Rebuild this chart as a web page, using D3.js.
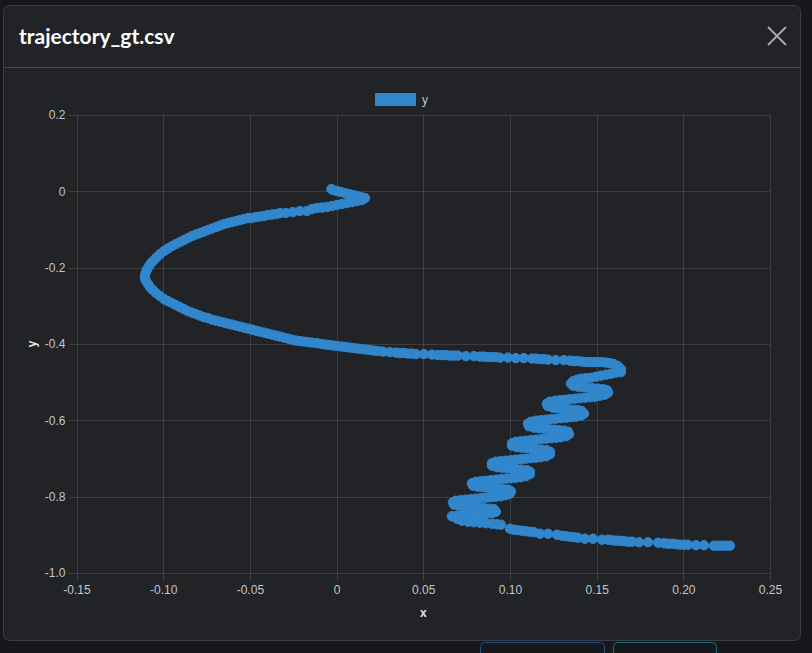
<!DOCTYPE html>
<html>
<head>
<meta charset="utf-8">
<script src="https://cdn.jsdelivr.net/npm/d3@7/dist/d3.min.js"></script>
<style>
  html, body { margin: 0; padding: 0; background: #17181b; }
  svg { display: block; }
</style>
</head>
<body>
<svg id="chart" width="812" height="653"></svg>
<script>
// ---- data ----
const title = "trajectory_gt.csv";
const seriesName = "y";
const xAxisTitle = "x";
const yAxisTitle = "y";
const xTicks = [-0.15, -0.10, -0.05, 0, 0.05, 0.10, 0.15, 0.20, 0.25];
const xTickLabels = ["-0.15", "-0.10", "-0.05", "0", "0.05", "0.10", "0.15", "0.20", "0.25"];
const yTicks = [0.2, 0, -0.2, -0.4, -0.6, -0.8, -1.0];
const yTickLabels = ["0.2", "0", "-0.2", "-0.4", "-0.6", "-0.8", "-1.0"];

const xValues = [
  -0.0030, -0.0021, 0.0002, 0.0025, 0.0048, 0.0072, 0.0095, 0.0118, 0.0141, 0.0164, 0.0146,
  0.0118, 0.0089, 0.0060, 0.0031, 0.0002, -0.0027, -0.0055, -0.0084, -0.0113, -0.0142,
  -0.0171, -0.0211, -0.0252, -0.0292, -0.0326, -0.0349, -0.0372, -0.0396, -0.0419, -0.0442,
  -0.0465, -0.0488, -0.0511, -0.0534, -0.0557, -0.0580, -0.0603, -0.0626, -0.0649, -0.0672,
  -0.0695, -0.0719, -0.0742, -0.0765, -0.0788, -0.0811, -0.0834, -0.0857, -0.0880, -0.0903,
  -0.0926, -0.0949, -0.0972, -0.0995, -0.1018, -0.1036, -0.1053, -0.1070, -0.1082, -0.1093,
  -0.1099, -0.1105, -0.1105, -0.1099, -0.1087, -0.1076, -0.1059, -0.1041, -0.1018, -0.0995,
  -0.0972, -0.0949, -0.0926, -0.0903, -0.0880, -0.0857, -0.0834, -0.0811, -0.0788, -0.0765,
  -0.0742, -0.0719, -0.0695, -0.0672, -0.0649, -0.0626, -0.0603, -0.0580, -0.0557, -0.0534,
  -0.0511, -0.0488, -0.0465, -0.0442, -0.0419, -0.0396, -0.0372, -0.0349, -0.0326, -0.0303,
  -0.0280, -0.0257, -0.0234, -0.0211, -0.0188, -0.0165, -0.0142, -0.0113, -0.0084, -0.0061,
  -0.0038, -0.0015, 0.0008, 0.0031, 0.0054, 0.0077, 0.0100, 0.0123, 0.0146, 0.0170,
  0.0193, 0.0216, 0.0239, 0.0268, 0.0308, 0.0343, 0.0366, 0.0389, 0.0412, 0.0435,
  0.0458, 0.0504, 0.0550, 0.0585, 0.0608, 0.0631, 0.0654, 0.0677, 0.0700, 0.0746,
  0.0792, 0.0827, 0.0850, 0.0873, 0.0896, 0.0919, 0.0942, 0.0988, 0.1034, 0.1080,
  0.1127, 0.1150, 0.1173, 0.1196, 0.1219, 0.1265, 0.1311, 0.1346, 0.1369, 0.1392,
  0.1415, 0.1438, 0.1462, 0.1485, 0.1508, 0.1531, 0.1554, 0.1577, 0.1600, 0.1623,
  0.1640, 0.1640,
  // wiggles
  0.1612, 0.1583, 0.1554, 0.1525, 0.1496, 0.1467, 0.1438, 0.1410, 0.1387, 0.1364,
  0.1352, 0.1364, 0.1392, 0.1421, 0.1450, 0.1479, 0.1508, 0.1537, 0.1560, 0.1566,
  0.1548, 0.1519, 0.1491, 0.1462, 0.1433, 0.1404, 0.1375, 0.1346, 0.1317, 0.1288,
  0.1259, 0.1231, 0.1213, 0.1219, 0.1248, 0.1277, 0.1306, 0.1335, 0.1364, 0.1392,
  0.1415, 0.1427, 0.1410, 0.1381, 0.1352, 0.1323, 0.1294, 0.1265, 0.1236, 0.1208,
  0.1179, 0.1150, 0.1121, 0.1104, 0.1110, 0.1139, 0.1167, 0.1196, 0.1225, 0.1254,
  0.1283, 0.1312, 0.1335, 0.1341, 0.1323, 0.1294, 0.1265, 0.1236, 0.1208, 0.1179,
  0.1150, 0.1121, 0.1092, 0.1063, 0.1034, 0.1012, 0.1012, 0.1040, 0.1069, 0.1098,
  0.1127, 0.1156, 0.1185, 0.1213, 0.1231, 0.1231, 0.1208, 0.1179, 0.1150, 0.1121,
  0.1092, 0.1063, 0.1034, 0.1006, 0.0977, 0.0948, 0.0919, 0.0896, 0.0896, 0.0925,
  0.0954, 0.0983, 0.1012, 0.1040, 0.1069, 0.1098, 0.1115, 0.1115, 0.1092, 0.1063,
  0.1034, 0.1006, 0.0977, 0.0948, 0.0919, 0.0890, 0.0861, 0.0833, 0.0804, 0.0781,
  0.0787, 0.0815, 0.0844, 0.0873, 0.0902, 0.0931, 0.0960, 0.0988, 0.1006, 0.1000,
  0.0977, 0.0948, 0.0919, 0.0890, 0.0861, 0.0833, 0.0804, 0.0775, 0.0746, 0.0717,
  0.0688, 0.0671, 0.0677, 0.0706, 0.0735, 0.0763, 0.0792, 0.0821, 0.0850, 0.0879,
  0.0908, 0.0919, 0.0896, 0.0867, 0.0838, 0.0810, 0.0781, 0.0752, 0.0723, 0.0694,
  0.0665, 0.0694, 0.0723, 0.0758, 0.0792, 0.0827, 0.0861, 0.0896, 0.0925, 0.0948,
  // final run
  0.1000, 0.1023, 0.1046, 0.1069, 0.1092, 0.1115, 0.1139, 0.1173, 0.1219, 0.1271,
  0.1300, 0.1323, 0.1346, 0.1369, 0.1392, 0.1433, 0.1479, 0.1531, 0.1566, 0.1589,
  0.1612, 0.1635, 0.1658, 0.1681, 0.1704, 0.1745, 0.1796, 0.1854, 0.1888, 0.1911,
  0.1935, 0.1958, 0.1981, 0.2004, 0.2027, 0.2073, 0.2119, 0.2177, 0.2200, 0.2223,
  0.2246, 0.2269
];

const yValues = [
  0.0060, 0.0034, 0.0008, -0.0018, -0.0045, -0.0071, -0.0097, -0.0123, -0.0149, -0.0176, -0.0228,
  -0.0254, -0.0281, -0.0307, -0.0333, -0.0359, -0.0385, -0.0412, -0.0425, -0.0438, -0.0464,
  -0.0516, -0.0516, -0.0543, -0.0569, -0.0569, -0.0595, -0.0608, -0.0621, -0.0647, -0.0661,
  -0.0674, -0.0700, -0.0700, -0.0726, -0.0753, -0.0779, -0.0805, -0.0831, -0.0857, -0.0897,
  -0.0936, -0.0975, -0.1014, -0.1054, -0.1093, -0.1132, -0.1172, -0.1224, -0.1277, -0.1329,
  -0.1381, -0.1434, -0.1499, -0.1565, -0.1644, -0.1722, -0.1801, -0.1880, -0.1959, -0.2038,
  -0.2116, -0.2195, -0.2273, -0.2352, -0.2431, -0.2509, -0.2588, -0.2667, -0.2745, -0.2824,
  -0.2877, -0.2929, -0.2981, -0.3034, -0.3086, -0.3139, -0.3178, -0.3217, -0.3257, -0.3296,
  -0.3322, -0.3362, -0.3388, -0.3414, -0.3440, -0.3466, -0.3492, -0.3519, -0.3545, -0.3571,
  -0.3597, -0.3623, -0.3650, -0.3676, -0.3702, -0.3728, -0.3754, -0.3780, -0.3806, -0.3833,
  -0.3859, -0.3885, -0.3911, -0.3924, -0.3937, -0.3950, -0.3963, -0.3976, -0.4003, -0.4016,
  -0.4029, -0.4042, -0.4055, -0.4068, -0.4081, -0.4094, -0.4107, -0.4121, -0.4134, -0.4147,
  -0.4160, -0.4173, -0.4186, -0.4199, -0.4212, -0.4225, -0.4238, -0.4238, -0.4251, -0.4251,
  -0.4264, -0.4264, -0.4278, -0.4291, -0.4291, -0.4291, -0.4304, -0.4304, -0.4304, -0.4317,
  -0.4317, -0.4330, -0.4330, -0.4343, -0.4343, -0.4343, -0.4356, -0.4356, -0.4369, -0.4369,
  -0.4382, -0.4382, -0.4395, -0.4395, -0.4409, -0.4422, -0.4422, -0.4435, -0.4448, -0.4448,
  -0.4461, -0.4474, -0.4474, -0.4474, -0.4474, -0.4474, -0.4487, -0.4500, -0.4526, -0.4579,
  -0.4657, -0.4736,
  // wiggles
  -0.4752, -0.4778, -0.4804, -0.4830, -0.4857, -0.4883, -0.4896, -0.4909, -0.4935, -0.4974,
  -0.5040, -0.5092, -0.5119, -0.5132, -0.5145, -0.5158, -0.5171, -0.5184, -0.5211, -0.5276,
  -0.5329, -0.5355, -0.5381, -0.5394, -0.5407, -0.5420, -0.5433, -0.5446, -0.5460, -0.5473,
  -0.5486, -0.5512, -0.5564, -0.5630, -0.5669, -0.5682, -0.5695, -0.5708, -0.5721, -0.5734,
  -0.5761, -0.5826, -0.5879, -0.5905, -0.5918, -0.5931, -0.5944, -0.5957, -0.5970, -0.5983,
  -0.5996, -0.6009, -0.6036, -0.6088, -0.6154, -0.6193, -0.6206, -0.6219, -0.6232, -0.6245,
  -0.6258, -0.6271, -0.6298, -0.6363, -0.6416, -0.6442, -0.6455, -0.6468, -0.6481, -0.6494,
  -0.6507, -0.6520, -0.6534, -0.6547, -0.6560, -0.6599, -0.6665, -0.6704, -0.6717, -0.6730,
  -0.6743, -0.6756, -0.6769, -0.6783, -0.6822, -0.6887, -0.6940, -0.6966, -0.6979, -0.6992,
  -0.7005, -0.7018, -0.7031, -0.7045, -0.7058, -0.7071, -0.7084, -0.7123, -0.7189, -0.7228,
  -0.7241, -0.7254, -0.7267, -0.7280, -0.7293, -0.7306, -0.7346, -0.7411, -0.7464, -0.7490,
  -0.7503, -0.7516, -0.7529, -0.7542, -0.7556, -0.7569, -0.7582, -0.7595, -0.7608, -0.7647,
  -0.7713, -0.7739, -0.7752, -0.7765, -0.7778, -0.7791, -0.7804, -0.7817, -0.7857, -0.7922,
  -0.7962, -0.7988, -0.8001, -0.8014, -0.8027, -0.8040, -0.8053, -0.8066, -0.8079, -0.8093,
  -0.8106, -0.8145, -0.8211, -0.8237, -0.8250, -0.8263, -0.8276, -0.8289, -0.8302, -0.8315,
  -0.8328, -0.8394, -0.8434, -0.8447, -0.8460, -0.8473, -0.8473, -0.8486, -0.8486, -0.8499,
  -0.8512, -0.8578, -0.8630, -0.8657, -0.8670, -0.8683, -0.8696, -0.8709, -0.8722, -0.8735,
  // final run
  -0.8840, -0.8866, -0.8879, -0.8892, -0.8906, -0.8919, -0.8932, -0.8971, -0.8971, -0.8997,
  -0.9023, -0.9036, -0.9049, -0.9062, -0.9076, -0.9102, -0.9102, -0.9128, -0.9128, -0.9141,
  -0.9154, -0.9154, -0.9167, -0.9180, -0.9180, -0.9194, -0.9194, -0.9207, -0.9220, -0.9233,
  -0.9233, -0.9246, -0.9259, -0.9259, -0.9259, -0.9272, -0.9272, -0.9285, -0.9285, -0.9285,
  -0.9285, -0.9285
];

const points = xValues.map((v, i) => ({ x: v, y: yValues[i] }));

// ---- drawing ----
const svg = d3.select("#chart");
const font = "'Liberation Sans', Arial, sans-serif";
const pointColor = "#3186cc";
const gridColor = "rgba(255,255,255,0.12)";
const tickColor = "#c4c6c8";

// background items behind modal
svg.append("rect").attr("x", 0).attr("y", 0).attr("width", 812).attr("height", 653).attr("fill", "#17181b");
svg.append("rect").attr("x", 480.5).attr("y", 642.5).attr("width", 124).attr("height", 20).attr("rx", 4)
  .attr("fill", "none").attr("stroke", "#1f4f80");
svg.append("rect").attr("x", 613.5).attr("y", 642.5).attr("width", 103).attr("height", 20).attr("rx", 4)
  .attr("fill", "none").attr("stroke", "#1b6f7c");

// modal
svg.append("rect").attr("x", 3.5).attr("y", 5.5).attr("width", 797).attr("height", 635).attr("rx", 6)
  .attr("fill", "#212327").attr("stroke", "#3b3e43");
svg.append("line").attr("x1", 4).attr("x2", 800).attr("y1", 67.5).attr("y2", 67.5).attr("stroke", "#45484d");

svg.append("text").attr("x", 19).attr("y", 44).text(title)
  .attr("fill", "#ffffff").attr("font-family", "Lato, 'Open Sans', sans-serif")
  .attr("font-weight", "bold").attr("font-size", 21);

// close button
const closeX = 777, closeY = 36, closeS = 9;
svg.append("path").attr("d", `M${closeX - closeS},${closeY - closeS}L${closeX + closeS},${closeY + closeS}M${closeX + closeS},${closeY - closeS}L${closeX - closeS},${closeY + closeS}`)
  .attr("stroke", "#a9abae").attr("stroke-width", 1.8).attr("fill", "none");

// scales
const plotLeft = 76.5, plotRight = 770, plotTop = 115, plotBottom = 573;
const xScale = d3.scaleLinear().domain([-0.15, 0.25]).range([plotLeft, plotRight]);
const yScale = d3.scaleLinear().domain([-1.0, 0.2]).range([plotBottom, plotTop]);

// grid
const grid = svg.append("g");
grid.selectAll(".vg").data(xTicks).join("line")
  .attr("x1", d => Math.round(xScale(d)) + 0.5).attr("x2", d => Math.round(xScale(d)) + 0.5)
  .attr("y1", plotTop).attr("y2", plotBottom + 8).attr("stroke", gridColor);
grid.selectAll(".hg").data(yTicks).join("line")
  .attr("y1", d => Math.round(yScale(d)) + 0.5).attr("y2", d => Math.round(yScale(d)) + 0.5)
  .attr("x1", plotLeft - 8).attr("x2", plotRight).attr("stroke", gridColor);

// axes
const xAxis = d3.axisBottom(xScale).tickValues(xTicks).tickSize(0).tickPadding(0)
  .tickFormat((d, i) => xTickLabels[i]);
const gx = svg.append("g").attr("transform", `translate(0,${plotBottom + 12})`).call(xAxis);
gx.select(".domain").remove();
gx.selectAll("text").attr("fill", tickColor).attr("font-family", font).attr("font-size", 12).attr("dy", "0.71em");

const yAxis = d3.axisLeft(yScale).tickValues(yTicks).tickSize(0).tickPadding(0)
  .tickFormat((d, i) => yTickLabels[i]);
const gy = svg.append("g").attr("transform", `translate(${plotLeft - 11},0)`).call(yAxis);
gy.select(".domain").remove();
gy.selectAll("text").attr("fill", tickColor).attr("font-family", font).attr("font-size", 12).attr("dy", "0.32em");

// axis titles
svg.append("text").attr("x", (plotLeft + plotRight) / 2).attr("y", 617).attr("text-anchor", "middle")
  .attr("fill", "#e6e6e6").attr("font-family", font).attr("font-weight", "bold").attr("font-size", 12).text(xAxisTitle);
svg.append("text").attr("transform", `translate(36,${(plotTop + plotBottom) / 2}) rotate(-90)`).attr("text-anchor", "middle")
  .attr("fill", "#e6e6e6").attr("font-family", font).attr("font-weight", "bold").attr("font-size", 12).text(yAxisTitle);

// legend
svg.append("rect").attr("x", 375.5).attr("y", 93.5).attr("width", 40).attr("height", 12)
  .attr("fill", pointColor).attr("stroke", pointColor);
svg.append("text").attr("x", 422).attr("y", 104).attr("fill", tickColor).attr("font-family", font)
  .attr("font-size", 12).text(seriesName);

// points
svg.append("g").selectAll("circle").data(points).join("circle")
  .attr("cx", d => xScale(d.x)).attr("cy", d => yScale(d.y)).attr("r", 4.7)
  .attr("fill", pointColor).attr("stroke", pointColor).attr("stroke-width", 1);
</script>
</body>
</html>
